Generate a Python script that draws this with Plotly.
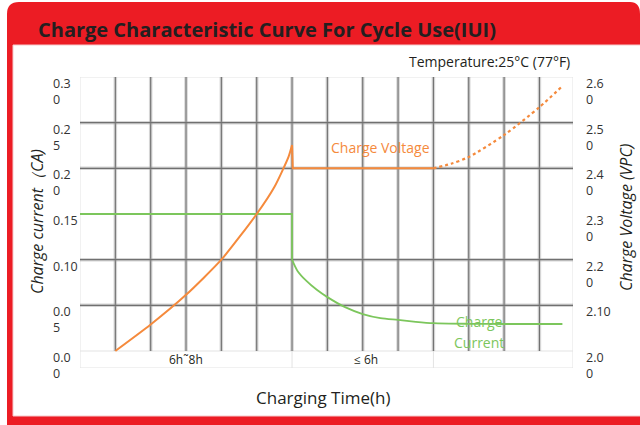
import plotly.graph_objects as go

# ---------------- data ----------------
volt_rise_x = [1, 2, 3, 4, 5, 5.5, 5.9, 6.0]
volt_rise_v = [2.000, 2.058, 2.123, 2.200, 2.300, 2.359, 2.425, 2.451]
volt_hold_x = [6.0, 6.02, 10]
volt_hold_v = [2.451, 2.400, 2.400]
volt_dot_x = [10, 10.5, 11, 12, 13, 13.65]
volt_dot_v = [2.400, 2.410, 2.425, 2.473, 2.534, 2.580]

cur_cc_x = [0, 6, 6]
cur_cc_v = [0.15, 0.15, 0.10]
cur_taper_x = [6, 6.15, 6.4, 6.7, 7, 7.5, 8, 8.5, 9, 9.5, 10, 11, 12, 13.65]
cur_taper_v = [0.100, 0.088, 0.077, 0.067, 0.059, 0.048, 0.0405, 0.036, 0.034,
               0.032, 0.0305, 0.0298, 0.0296, 0.0296]

left_ticks = [0.30, 0.25, 0.20, 0.15, 0.10, 0.05, 0.00]
left_labels = ["0.3<br>0", "0.2<br>5", "0.2<br>0", "0.15", "0.10", "0.0<br>5", "0.0<br>0"]
right_ticks = [2.60, 2.50, 2.40, 2.30, 2.20, 2.10, 2.00]
right_labels = ["2.6<br>0", "2.5<br>0", "2.4<br>0", "2.3<br>0", "2.2<br>0", "2.10", "2.0<br>0"]
x_grid = list(range(1, 14))
y_grid = [0.05, 0.10, 0.20, 0.25]
period_labels = ["6h˜8h", "≤ 6h"]
period_pos = [3.0, 8.1]
period_bounds = [6, 10]

# ---------------- styles ----------------
ORANGE = "#F58A3C"
GREEN = "#7CC65C"
RED = "#EC1C24"
DARK = "#231F20"
FONT = "Open Sans"

W, H = 640, 425
ML, MR, MT, MB = 80, 67, 77, 57
XMAX = 13.95
BAND = -0.0186
PW, PH = W - ML - MR, H - MT - MB


def px(p):
    return (p - ML) / PW


def py(p):
    return (H - MB - p) / PH


fig = go.Figure()

fig.add_trace(go.Scatter(x=cur_cc_x, y=cur_cc_v, mode="lines",
                         line=dict(color=GREEN, width=1.8), hoverinfo="skip"))
fig.add_trace(go.Scatter(x=cur_taper_x, y=cur_taper_v, mode="lines",
                         line=dict(color=GREEN, width=1.8, shape="spline", smoothing=0.8),
                         hoverinfo="skip"))
fig.add_trace(go.Scatter(x=volt_rise_x, y=volt_rise_v, yaxis="y2", mode="lines",
                         line=dict(color=ORANGE, width=2, shape="spline", smoothing=0.6),
                         hoverinfo="skip"))
fig.add_trace(go.Scatter(x=volt_hold_x, y=volt_hold_v, yaxis="y2", mode="lines",
                         line=dict(color=ORANGE, width=2), hoverinfo="skip"))
fig.add_trace(go.Scatter(x=volt_dot_x, y=volt_dot_v, yaxis="y2", mode="lines",
                         line=dict(color=ORANGE, width=2.2, dash="dot", shape="spline",
                                   smoothing=0.8), hoverinfo="skip"))

shapes = []
# frame
r = 12
x0, y0, x1, y1 = px(7), py(2), px(645), py(432)
rx, ry = r / PW, r / PH
shapes.append(dict(type="path", xref="paper", yref="paper", layer="below",
                   path=f"M {x0} {y1} L {x0} {y0 - ry} Q {x0} {y0} {x0 + rx} {y0} "
                        f"L {px(630)} {y0} Q {px(640)} {y0} {px(640)} {y0 - ry} L {x1} {y1} Z",
                   fillcolor=RED, line=dict(width=0)))
shapes.append(dict(type="rect", xref="paper", yref="paper", layer="below",
                   x0=px(13), x1=px(650), y0=py(45), y1=py(416),
                   fillcolor="white", line=dict(color="#F6C9CB", width=1)))

LIGHT = dict(color="#E3E3E3", width=1)
# light borders
shapes.append(dict(type="line", xref="x", yref="y", x0=0, x1=XMAX, y0=0.30, y1=0.30, line=LIGHT, layer="below"))
shapes.append(dict(type="line", xref="x", yref="y", x0=0, x1=0, y0=BAND, y1=0.30, line=LIGHT, layer="below"))
shapes.append(dict(type="line", xref="x", yref="y", x0=XMAX, x1=XMAX, y0=BAND, y1=0.30, line=LIGHT, layer="below"))
shapes.append(dict(type="line", xref="x", yref="y", x0=0, x1=XMAX, y0=0, y1=0, line=LIGHT, layer="below"))
shapes.append(dict(type="line", xref="x", yref="y", x0=0, x1=XMAX, y0=BAND, y1=BAND, line=LIGHT, layer="below"))
for b in period_bounds:
    shapes.append(dict(type="line", xref="x", yref="y", x0=b, x1=b, y0=BAND, y1=0, line=LIGHT, layer="below"))

# heavy grid
for gx in x_grid:
    shapes.append(dict(type="line", xref="x", yref="y", x0=gx, x1=gx, y0=0, y1=0.30,
                       line=dict(color="rgba(150,150,150,0.4)", width=3.5), layer="below"))
    shapes.append(dict(type="line", xref="x", yref="y", x0=gx, x1=gx, y0=0, y1=0.30,
                       line=dict(color="#707070", width=1.1), layer="below"))
for gy in y_grid:
    shapes.append(dict(type="line", xref="x", yref="y", x0=0, x1=XMAX, y0=gy, y1=gy,
                       line=dict(color="rgba(150,150,150,0.4)", width=3.5), layer="below"))
    shapes.append(dict(type="line", xref="x", yref="y", x0=0, x1=XMAX, y0=gy, y1=gy,
                       line=dict(color="#707070", width=1.1), layer="below"))

ann = []
TICKF = dict(family=FONT, size=12.5, color="#333333")
for v, t in zip(left_ticks, left_labels):
    ann.append(dict(xref="paper", yref="y", x=px(51), y=v, text=t, showarrow=False,
                    xanchor="left", yanchor="top", yshift=4, align="left", font=TICKF))
for v, t in zip(right_ticks, right_labels):
    ann.append(dict(xref="paper", yref="y2", x=px(584), y=v, text=t, showarrow=False,
                    xanchor="left", yanchor="top", yshift=4, align="left", font=TICKF))
for p, t in zip(period_pos, period_labels):
    ann.append(dict(xref="x", yref="y", x=p, y=BAND / 2, text=t, showarrow=False,
                    xanchor="center", yanchor="middle", font=dict(family=FONT, size=12, color=DARK)))

ann.append(dict(xref="paper", yref="paper", x=px(36), y=py(30), text="<b>Charge Characteristic Curve For Cycle Use(IUI)</b>",
                showarrow=False, xanchor="left", yanchor="middle",
                font=dict(family=FONT, size=20, color=DARK)))
ann.append(dict(xref="paper", yref="paper", x=px(572), y=py(62), text="Temperature:25°C (77°F)",
                showarrow=False, xanchor="right", yanchor="middle",
                font=dict(family=FONT, size=14, color=DARK)))
ann.append(dict(xref="paper", yref="paper", x=px(323), y=py(397), text="Charging Time(h)",
                showarrow=False, xanchor="center", yanchor="middle",
                font=dict(family=FONT, size=17, color=DARK)))
ann.append(dict(xref="paper", yref="paper", x=px(37), y=py(222), text="<i>Charge current（CA)</i>",
                showarrow=False, xanchor="center", yanchor="middle", textangle=-90,
                font=dict(family=FONT, size=16, color=DARK)))
ann.append(dict(xref="paper", yref="paper", x=px(626), y=py(218), text="<i>Charge Voltage (VPC)</i>",
                showarrow=False, xanchor="center", yanchor="middle", textangle=-90,
                font=dict(family=FONT, size=16, color=DARK)))
ann.append(dict(xref="x", yref="y2", x=8.5, y=2.446, text="Charge Voltage", showarrow=False,
                xanchor="center", yanchor="middle", font=dict(family=FONT, size=14, color=ORANGE)))
ann.append(dict(xref="x", yref="y", x=11.3, y=0.0318, text="Charge", showarrow=False,
                xanchor="center", yanchor="middle", font=dict(family=FONT, size=14, color=GREEN)))
ann.append(dict(xref="x", yref="y", x=11.3, y=0.0088, text="Current", showarrow=False,
                xanchor="center", yanchor="middle", font=dict(family=FONT, size=14, color=GREEN)))

fig.update_layout(
    width=W, height=H, margin=dict(l=ML, r=MR, t=MT, b=MB, pad=0),
    paper_bgcolor="white", plot_bgcolor="rgba(0,0,0,0)", showlegend=False,
    hovermode=False, dragmode=False,
    xaxis=dict(range=[0, XMAX], showgrid=False, zeroline=False, showticklabels=False,
               showline=False, ticks="", fixedrange=True),
    yaxis=dict(range=[BAND, 0.30], showgrid=False, zeroline=False, showticklabels=False,
               showline=False, ticks="", fixedrange=True),
    yaxis2=dict(range=[2.0 + 2 * BAND, 2.6], overlaying="y", side="right", showgrid=False,
                zeroline=False, showticklabels=False, showline=False, ticks="", fixedrange=True),
    shapes=shapes, annotations=ann,
)

fig.write_html("out.html", config={"displayModeBar": False, "staticPlot": True},
               post_script="document.body.style.margin='0';document.body.style.overflow='hidden';")
